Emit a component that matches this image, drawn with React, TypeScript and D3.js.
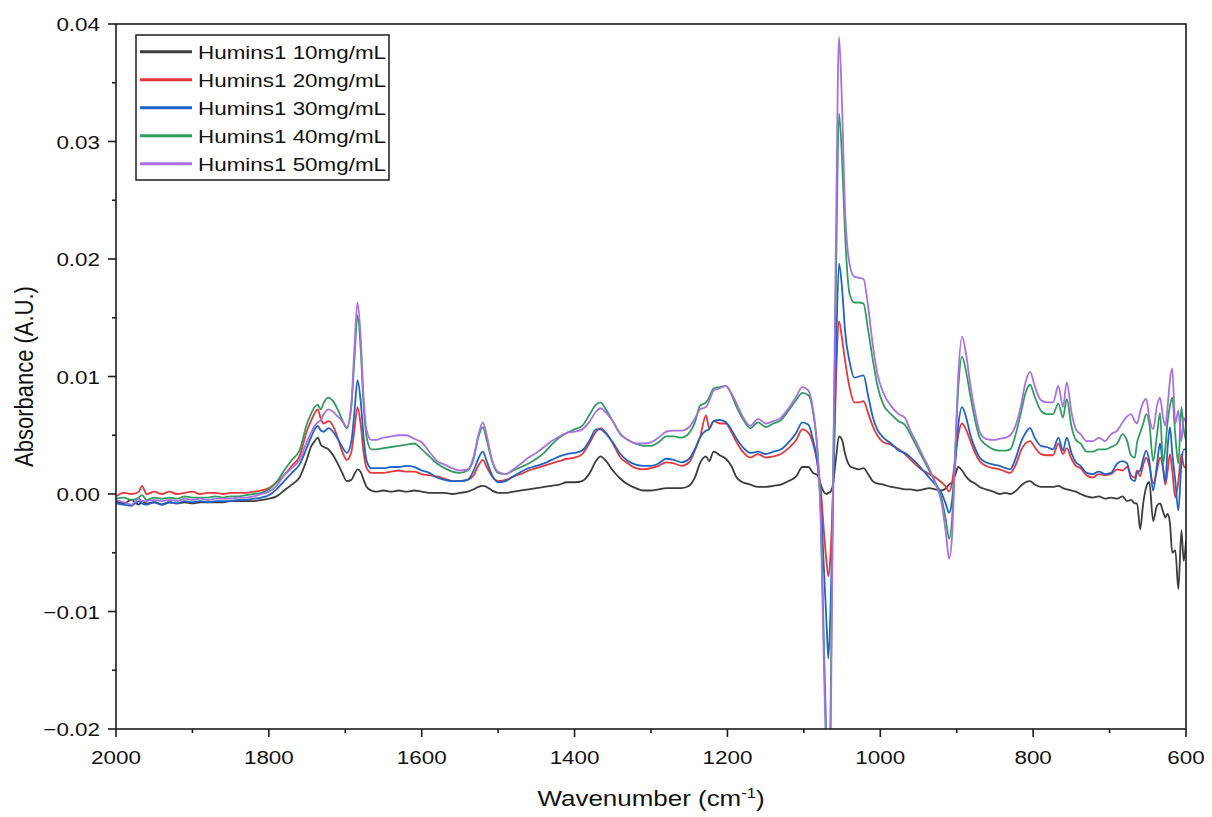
import React from "react";
import * as d3 from "d3";

// Wavenumber grid (cm^-1)
const WAVENUMBER = [
  2000, 1990, 1980, 1970, 1966, 1960, 1950, 1940, 1930, 1920,
  1910, 1900, 1890, 1880, 1870, 1860, 1850, 1840, 1830, 1820,
  1810, 1800, 1790, 1780, 1770, 1760, 1750, 1745, 1740, 1736,
  1732, 1728, 1722, 1716, 1710, 1704, 1698, 1692, 1688, 1684,
  1680, 1676, 1672, 1666, 1660, 1650, 1640, 1630, 1620, 1610,
  1600, 1590, 1580, 1570, 1560, 1550, 1540, 1532, 1526, 1520,
  1515, 1508, 1500, 1490, 1480, 1470, 1460, 1450, 1440, 1430,
  1420, 1410, 1400, 1390, 1380, 1372, 1366, 1360, 1350, 1340,
  1330, 1320, 1310, 1300, 1290, 1280, 1270, 1260, 1250, 1242,
  1236, 1228, 1224, 1218, 1210, 1202, 1195, 1188, 1180, 1170,
  1160, 1150, 1140, 1130, 1120, 1110, 1102, 1094, 1088, 1082,
  1078, 1074, 1070, 1068, 1065, 1062, 1058, 1054, 1050, 1046,
  1040, 1034, 1028, 1022, 1016, 1010, 1004, 996, 986, 976,
  968, 960, 952, 944, 936, 928, 920, 914, 910, 906,
  902, 898, 893, 888, 882, 876, 870, 862, 852, 844,
  836, 830, 822, 816, 810, 804, 798, 790, 782, 774,
  767, 761, 756, 750, 744, 738, 730, 722, 714, 706,
  698, 690, 683, 677, 672, 667, 664, 660, 656, 652,
  648, 643, 638, 634, 630, 627, 624, 621, 618, 614,
  610, 606, 603, 600,
];

// Absorbance values in units of 10^-3 A.U.
const H1_10 = [
  -0.6, -0.8, -0.5, -0.9, -0.6, -0.8, -0.7, -0.9, -0.7, -0.8,
  -0.7, -0.8, -0.7, -0.7, -0.7, -0.7, -0.6, -0.6, -0.6, -0.6,
  -0.5, -0.4, -0.2, 0.3, 0.8, 1.4, 3.0, 4.0, 4.5, 4.8,
  4.2, 4.0, 3.8, 3.3, 2.6, 1.8, 1.1, 1.2, 1.7, 2.1,
  1.9, 1.2, 0.6, 0.3, 0.2, 0.3, 0.2, 0.3, 0.2, 0.3,
  0.2, 0.1, 0.1, 0.1, 0.0, 0.1, 0.2, 0.4, 0.6, 0.7,
  0.6, 0.3, 0.1, 0.1, 0.2, 0.3, 0.4, 0.5, 0.6, 0.7,
  0.8, 1.0, 1.0, 1.1, 1.8, 2.8, 3.2, 2.9, 2.0, 1.3,
  0.8, 0.5, 0.3, 0.3, 0.4, 0.5, 0.5, 0.5, 0.7, 1.5,
  2.6, 3.2, 2.8, 3.6, 3.3, 3.0, 2.4, 1.4, 1.0, 0.8,
  0.6, 0.6, 0.7, 0.8, 1.1, 1.5, 2.3, 2.3, 1.8, 1.6,
  0.8, 0.2, 0.0, 0.1, 0.2, 0.8, 3.0, 4.9, 4.6, 3.4,
  2.4, 2.2, 2.1, 2.2, 1.7, 1.1, 0.9, 0.8, 0.6, 0.5,
  0.4, 0.4, 0.3, 0.4, 0.5, 0.4, 0.3, 0.5, 0.8, 1.0,
  1.6, 2.3, 2.0, 1.5, 1.1, 0.9, 0.6, 0.4, 0.2, 0.0,
  0.1, 0.0, 0.3, 0.7, 1.0, 1.1, 0.8, 0.6, 0.6, 0.6,
  0.7, 0.5, 0.4, 0.3, 0.2, 0.0, -0.2, -0.3, -0.2, -0.4,
  -0.3, -0.4, -0.2, -0.6, -0.5, -0.8, -0.8, -3.0, -0.8, 0.6,
  1.0, -2.3, -1.0, -0.8, -1.5, -2.0, -1.7, -2.5, -5.0, -4.8,
  -8.1, -3.1, -5.7, -4.0,
];

const H1_20 = [
  -0.2, 0.1, 0.0, 0.2, 0.7, 0.0, 0.2, 0.0, 0.2, 0.0,
  0.1, 0.2, 0.0, 0.1, 0.1, 0.0, 0.1, 0.1, 0.1, 0.2,
  0.3, 0.5, 1.0, 1.6, 2.4, 3.2, 5.4, 6.2, 6.9, 7.2,
  6.4, 6.0, 6.2, 5.8, 4.8, 3.6, 2.9, 3.6, 5.5, 7.4,
  6.0, 3.5, 2.2, 1.8, 1.8, 1.8, 1.9, 2.0, 1.9, 1.9,
  1.7, 1.6, 1.5, 1.3, 1.1, 1.1, 1.2, 1.6, 2.4, 2.9,
  2.3, 1.5, 1.1, 1.2, 1.5, 1.7, 2.0, 2.2, 2.4, 2.6,
  2.8, 3.0, 3.1, 3.4, 4.4, 5.3, 5.6, 5.3, 4.3, 3.1,
  2.6, 2.2, 2.1, 2.2, 2.4, 2.7, 2.6, 2.4, 2.7, 3.8,
  4.8, 6.7, 5.6, 6.2, 6.0, 6.0, 5.3, 4.4, 3.6, 3.1,
  3.4, 3.1, 3.2, 3.4, 3.9, 4.6, 5.5, 5.2, 4.3, 2.5,
  0.5, -3.0, -6.0, -7.0, -5.0, 0.0, 9.5, 14.7, 13.2, 11.3,
  9.0, 7.8, 7.8, 7.9, 6.9, 5.8, 5.0, 4.4, 4.2, 3.8,
  3.4, 2.9, 2.4, 2.0, 1.7, 1.4, 1.0, 0.6, 0.2, 1.0,
  3.0, 5.0, 6.0, 5.5, 4.5, 3.5, 2.8, 2.4, 2.2, 2.1,
  1.9, 1.8, 2.6, 3.7, 4.3, 4.5, 4.0, 3.4, 3.3, 3.3,
  4.3, 3.4, 3.9, 3.0, 2.4, 2.2, 1.6, 1.4, 1.7, 1.6,
  1.7, 2.1, 2.0, 2.3, 1.6, 1.4, 2.0, 1.5, 2.5, 3.1,
  2.4, 0.9, 2.0, 3.1, 2.2, 0.8, 2.0, 3.4, 2.0, -0.3,
  1.1, 3.4, 2.4, 2.2,
];

const H1_30 = [
  -0.8, -0.9, -1.0, -0.6, -0.8, -0.9, -0.7, -0.9, -0.7, -0.8,
  -0.6, -0.7, -0.6, -0.7, -0.6, -0.6, -0.6, -0.5, -0.5, -0.4,
  -0.3, -0.1, 0.4, 1.1, 1.8, 2.5, 4.0, 4.8, 5.5, 5.8,
  5.4, 5.3, 5.6, 5.3, 4.7, 4.0, 3.5, 4.5, 7.0, 9.7,
  8.0, 4.8, 2.8, 2.2, 2.2, 2.2, 2.3, 2.3, 2.4, 2.3,
  2.0, 1.8, 1.4, 1.2, 1.1, 1.1, 1.2, 2.0, 3.0, 3.6,
  2.8, 1.6, 1.0, 1.1, 1.5, 1.9, 2.2, 2.4, 2.6, 2.9,
  3.2, 3.4, 3.5, 3.7, 4.6, 5.5, 5.5, 5.2, 4.4, 3.4,
  2.8, 2.5, 2.4, 2.4, 2.6, 3.0, 2.9, 2.7, 3.0, 3.9,
  4.8, 5.4, 5.5, 6.2, 6.3, 6.1, 5.5, 4.7, 4.0, 3.5,
  3.6, 3.4, 3.6, 3.8, 4.4, 5.2, 6.1, 5.9, 4.6, 2.5,
  -0.5, -6.0, -11.5, -14.0, -9.5, -1.0, 11.5, 19.6, 17.5, 13.8,
  11.2, 9.9, 10.0, 10.1, 8.4, 6.6, 5.5, 4.8, 4.3, 3.7,
  3.5, 3.1, 2.6, 2.0, 1.4, 0.8, 0.1, -0.9, -1.6, -0.5,
  2.5, 5.8, 7.4, 6.6, 5.0, 3.9, 3.1, 2.7, 2.5, 2.4,
  2.2, 2.1, 3.2, 4.4, 5.2, 5.6, 4.8, 4.1, 4.0, 3.8,
  4.8, 3.7, 4.8, 3.5, 2.7, 2.4, 1.8, 1.7, 1.9, 1.7,
  1.8, 2.6, 2.8, 2.6, 1.3, 1.1, 1.8, 2.0, 3.0, 3.7,
  2.8, 0.3, 2.5, 4.3, 2.2, 1.0, 4.0, 5.7, 3.5, 1.1,
  -1.4, 2.6, 3.8, 3.8,
];

const H1_40 = [
  -0.4, -0.3, -0.5, -0.3, -0.1, -0.5, -0.3, -0.4, -0.3, -0.4,
  -0.2, -0.3, -0.3, -0.3, -0.2, -0.3, -0.2, -0.2, -0.1, 0.0,
  0.1, 0.4, 1.0, 2.0, 2.9, 3.7, 6.0, 6.8, 7.4, 7.6,
  7.2, 7.8, 8.2, 7.9, 7.2, 6.3, 5.6, 7.5, 11.5, 15.2,
  12.5, 7.5, 4.8, 3.8, 3.8, 3.9, 4.0, 4.1, 4.2, 4.3,
  3.8, 3.2, 2.6, 2.2, 1.9, 1.8, 2.0, 3.0, 4.8, 5.7,
  4.6, 2.8, 1.8, 1.7, 2.0, 2.3, 2.6, 3.0, 3.5, 4.2,
  4.8, 5.2, 5.5, 5.8, 6.8, 7.6, 7.8, 7.3, 6.2, 5.1,
  4.6, 4.3, 4.1, 4.1, 4.4, 4.9, 4.9, 4.8, 5.2, 6.2,
  7.5, 7.8, 8.2, 9.0, 9.1, 9.2, 8.5, 7.4, 6.4, 5.6,
  6.1, 5.7, 6.0, 6.3, 7.1, 8.0, 8.6, 8.4, 7.0, 3.5,
  -1.5, -12.0, -22.0, -26.0, -18.0, 0.0, 18.0, 32.4, 28.5, 22.0,
  17.0, 16.3, 16.3, 16.2, 14.0, 11.5, 9.3, 7.6, 6.8, 6.2,
  5.9, 5.0, 4.0, 3.0, 2.0, 1.0, -0.3, -2.3, -3.8, -2.0,
  3.5, 9.0, 11.7, 10.5, 8.3, 6.3, 4.8, 4.2, 3.8, 3.7,
  3.7, 3.8, 5.3, 6.9, 8.6, 9.3, 8.3, 7.1, 6.8, 6.8,
  7.7, 6.5, 8.1, 5.8, 4.6, 4.3, 3.6, 3.6, 3.8, 3.8,
  4.0, 4.3, 5.1, 4.5, 3.3, 3.1, 4.4, 5.2, 6.0, 6.8,
  6.0, 2.8, 5.0, 6.9, 2.6, 4.0, 6.2, 7.5, 8.2, 5.0,
  2.6, 7.4, 5.5, 4.6,
];

const H1_50 = [
  -0.5, -0.7, -0.9, -0.4, -0.6, -0.6, -0.5, -0.6, -0.5, -0.6,
  -0.4, -0.5, -0.4, -0.5, -0.4, -0.4, -0.4, -0.3, -0.3, -0.2,
  0.0, 0.2, 0.7, 1.6, 2.2, 2.9, 4.5, 5.2, 5.8, 6.1,
  6.3, 6.8, 7.2, 7.0, 6.6, 6.2, 5.7, 7.8, 12.5, 16.3,
  13.5, 8.2, 5.4, 4.6, 4.6, 4.8, 4.9, 5.0, 5.0, 4.7,
  4.4, 3.6, 2.8, 2.5, 2.2, 2.0, 2.1, 3.2, 5.0, 6.1,
  5.0, 2.9, 1.9, 1.7, 2.1, 2.6, 3.1, 3.5, 4.0, 4.5,
  4.9, 5.2, 5.3, 5.5, 6.2, 7.0, 7.3, 7.0, 6.2, 5.1,
  4.6, 4.3, 4.3, 4.4, 4.8, 5.3, 5.4, 5.4, 5.7, 6.5,
  7.2, 7.4, 7.9, 8.8, 9.0, 9.2, 8.6, 7.7, 6.6, 5.8,
  6.4, 6.0, 6.2, 6.5, 7.3, 8.3, 9.1, 8.8, 7.2, 3.5,
  -2.0, -14.0, -25.0, -30.0, -22.0, 0.0, 22.0, 38.9, 33.0, 24.0,
  19.5, 18.5, 18.4, 18.3, 16.0, 12.8, 10.3, 8.6, 7.5, 6.8,
  6.5, 5.3, 4.3, 3.2, 2.2, 0.9, -0.7, -3.4, -5.5, -3.5,
  3.5, 10.0, 13.4, 12.0, 9.2, 7.0, 5.3, 4.7, 4.6, 4.7,
  4.8, 5.0, 6.0, 7.5, 9.5, 10.4, 9.2, 8.0, 7.8, 7.8,
  9.2, 7.4, 9.5, 7.0, 5.5, 5.1, 4.5, 4.5, 4.8, 4.5,
  5.1, 5.4, 6.1, 6.6, 6.8, 6.2, 6.0, 7.0, 7.8, 8.1,
  6.5, 5.5, 7.5, 8.2, 6.5, 5.8, 7.5, 9.7, 10.7, 6.0,
  7.1, 4.5, 6.5, 6.0,
];

const SERIES_NAMES = [
  "Humins1 10mg/mL",
  "Humins1 20mg/mL",
  "Humins1 30mg/mL",
  "Humins1 40mg/mL",
  "Humins1 50mg/mL",
];
const SERIES_VALUES = [H1_10, H1_20, H1_30, H1_40, H1_50];
const SERIES_COLORS = ["#3c3c3c", "#e4383c", "#1f63c9", "#2f9d5f", "#a870e0"];

const X_TICKS = [2000, 1800, 1600, 1400, 1200, 1000, 800, 600];
const X_MINOR = [1900, 1700, 1500, 1300, 1100, 900, 700];
const Y_TICKS = [-0.02, -0.01, 0.0, 0.01, 0.02, 0.03, 0.04];
const Y_MINOR = [-0.015, -0.005, 0.005, 0.015, 0.025, 0.035];

const WIDTH = 1212;
const HEIGHT = 817;
const M = { left: 116, right: 1186, top: 24, bottom: 729 };
const SX = 1.18; // horizontal text stretch
const FONT = "Arial, 'Liberation Sans', Helvetica, sans-serif";
const AXIS_COLOR = "#1c1c1c";

export default function App() {
  const x = d3.scaleLinear().domain([2000, 600]).range([M.left, M.right]);
  const y = d3.scaleLinear().domain([-0.02, 0.04]).range([M.bottom, M.top]);
  const fmt = d3.format(".2f");

  const line = d3
    .line<number>()
    .x((_, i) => x(WAVENUMBER[i]))
    .y((v) => y(v / 1000))
    .curve(d3.curveMonotoneX);

  return (
    <svg
      width={WIDTH}
      height={HEIGHT}
      style={{ position: "absolute", left: 0, top: 0, background: "#fff" }}
      fontFamily={FONT}
    >
      <defs>
        <clipPath id="plotClip">
          <rect x={M.left} y={M.top} width={M.right - M.left} height={M.bottom - M.top} />
        </clipPath>
      </defs>
      <rect x={0} y={0} width={WIDTH} height={HEIGHT} fill="#fff" />

      <g clipPath="url(#plotClip)">
        {SERIES_VALUES.map((vals, i) => (
          <path
            key={SERIES_NAMES[i]}
            d={line(vals) || ""}
            fill="none"
            stroke={SERIES_COLORS[i]}
            strokeWidth={1.8}
            strokeLinejoin="round"
          />
        ))}
      </g>

      {/* frame */}
      <rect
        x={M.left}
        y={M.top}
        width={M.right - M.left}
        height={M.bottom - M.top}
        fill="none"
        stroke={AXIS_COLOR}
        strokeWidth={1.6}
      />

      {/* x ticks */}
      {X_TICKS.map((t) => (
        <g key={"xt" + t}>
          <line x1={x(t)} x2={x(t)} y1={M.bottom} y2={M.bottom + 8} stroke={AXIS_COLOR} strokeWidth={1.6} />
          <text
            transform={`translate(${x(t)},${M.bottom + 35}) scale(${SX},1)`}
            textAnchor="middle"
            fontSize={19}
            fill="#111"
          >
            {t}
          </text>
        </g>
      ))}
      {X_MINOR.map((t) => (
        <line key={"xm" + t} x1={x(t)} x2={x(t)} y1={M.bottom} y2={M.bottom + 4} stroke={AXIS_COLOR} strokeWidth={1.6} />
      ))}

      {/* y ticks */}
      {Y_TICKS.map((t) => (
        <g key={"yt" + t}>
          <line x1={M.left - 8} x2={M.left} y1={y(t)} y2={y(t)} stroke={AXIS_COLOR} strokeWidth={1.6} />
          <text
            transform={`translate(${M.left - 16},${y(t) + 7}) scale(${SX},1)`}
            textAnchor="end"
            fontSize={19}
            fill="#111"
          >
            {fmt(t)}
          </text>
        </g>
      ))}
      {Y_MINOR.map((t) => (
        <line key={"ym" + t} x1={M.left - 4} x2={M.left} y1={y(t)} y2={y(t)} stroke={AXIS_COLOR} strokeWidth={1.6} />
      ))}

      {/* axis titles */}
      <text
        transform={`translate(${(M.left + M.right) / 2},${806}) scale(${SX},1)`}
        textAnchor="middle"
        fontSize={22}
        fill="#111"
      >
        Wavenumber (cm
        <tspan dy={-8} fontSize={14}>-1</tspan>
        <tspan dy={8}>)</tspan>
      </text>
      <text
        transform={`translate(33,${(M.top + M.bottom) / 2}) rotate(-90) scale(1,${SX})`}
        textAnchor="middle"
        fontSize={22}
        fill="#111"
      >
        Absorbance (A.U.)
      </text>

      {/* legend */}
      <rect x={136} y={35} width={253} height={145} fill="#fff" stroke={AXIS_COLOR} strokeWidth={1.5} />
      {SERIES_NAMES.map((name, i) => {
        const cy = 51.7 + i * 28;
        return (
          <g key={"lg" + name}>
            <line x1={140} x2={192} y1={cy} y2={cy} stroke={SERIES_COLORS[i]} strokeWidth={3} />
            <text
              transform={`translate(198,${cy + 7}) scale(${SX},1)`}
              fontSize={19}
              fill="#111"
            >
              {name}
            </text>
          </g>
        );
      })}
    </svg>
  );
}
